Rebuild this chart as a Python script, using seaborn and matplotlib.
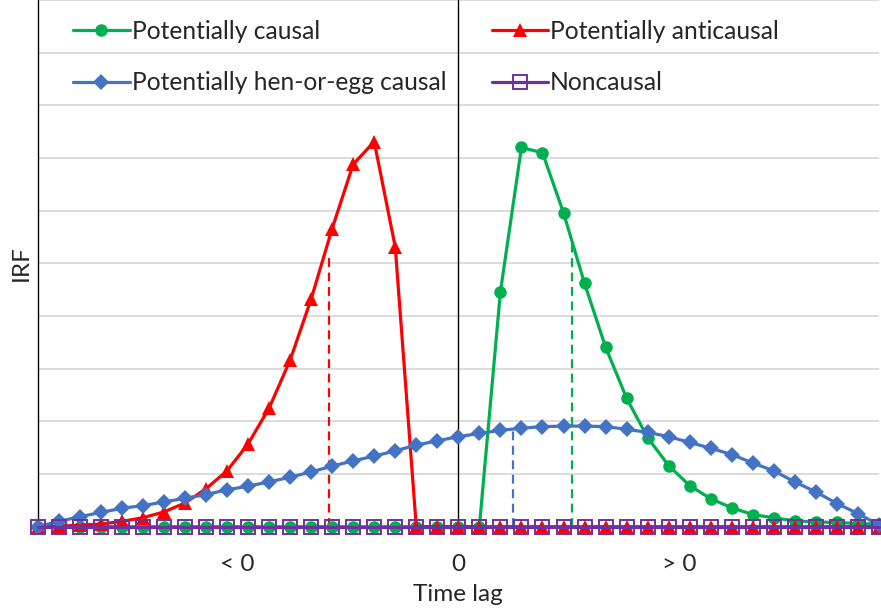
import numpy as np
import pandas as pd
import matplotlib
matplotlib.use("Agg")
import matplotlib.pyplot as plt
import seaborn as sns

# ---- data ----
lags = list(range(-20, 21))

causal = [0] * 22 + [4.46, 7.20, 7.10, 5.96, 4.62, 3.41, 2.44, 1.69, 1.16, 0.78,
                     0.53, 0.36, 0.23, 0.17, 0.11, 0.09, 0.08, 0.06, 0.05]

anticausal = [0, 0.01, 0.03, 0.05, 0.10, 0.17, 0.28, 0.45, 0.72, 1.06, 1.57,
              2.25, 3.16, 4.32, 5.66, 6.88, 7.31, 5.31] + [0] * 23

hen_egg = [0, 0.10, 0.19, 0.27, 0.35, 0.40, 0.47, 0.54, 0.61, 0.70, 0.77,
           0.85, 0.94, 1.04, 1.15, 1.25, 1.34, 1.44, 1.55, 1.63, 1.71,
           1.77, 1.83, 1.87, 1.90, 1.91, 1.91, 1.90, 1.85, 1.79, 1.71,
           1.60, 1.49, 1.37, 1.21, 1.06, 0.85, 0.66, 0.44, 0.25, 0.03]

noncausal = [0] * 41

# dashed markers (mean lag of each response)
dash_lags = [-6.17, 2.62, 5.40]
dash_tops = [5.12, 1.83, 5.44]
dash_colors = ["#FF0000", "#4472C4", "#00B050"]

tick_pos = [-10.5, 0, 10.5]
tick_labels = ["< 0", "0", "> 0"]

series = [
    ("Potentially causal", causal, "#00B050", "o", 9),
    ("Potentially anticausal", anticausal, "#FF0000", "^", 10.5),
    ("Potentially hen-or-egg causal", hen_egg, "#4472C4", "D", 8),
    ("Noncausal", noncausal, "#7030A0", "s", 10.5),
]

# ---- plot ----
sns.set_style("white")
plt.rcParams["font.family"] = ["Lato", "DejaVu Sans"]

fig = plt.figure(figsize=(8.81, 6.16), dpi=100)
ax = fig.add_axes([37.7 / 881, 1 - 526.7 / 616, 841.3 / 881, 526.7 / 616])

for name, vals, col, mk, ms in series:
    if mk == "s":
        sns.lineplot(x=lags, y=vals, ax=ax, color=col, lw=2.3, marker=mk,
                     markersize=ms, markerfacecolor="none", markeredgecolor=col,
                     markeredgewidth=1.4, label=name, clip_on=False, zorder=5)
    else:
        sns.lineplot(x=lags, y=vals, ax=ax, color=col, lw=2.3, marker=mk,
                     markersize=ms, markeredgewidth=0, label=name,
                     clip_on=False, zorder=4)

ax.vlines(dash_lags, 0, dash_tops, colors=dash_colors, linestyles=(0, (4, 2.5)),
          lw=1.6, zorder=3)

ax.axvline(0, color="black", lw=1, zorder=2)

ax.set_xlim(-20, 20)
ax.set_ylim(0, 10)
ax.set_yticks(range(0, 11))
ax.set_yticklabels([])
ax.grid(axis="y", color="#D9D9D9", lw=1.3)
ax.set_axisbelow(True)
ax.set_xticks(tick_pos)
ax.set_xticklabels(tick_labels, fontsize=17.5)
ax.tick_params(length=0)
ax.tick_params(axis="x", pad=20)

for s in ["top", "right", "bottom"]:
    ax.spines[s].set_visible(False)
ax.spines["left"].set_color("black")
ax.spines["left"].set_linewidth(1)

ax.set_xlabel("Time lag", fontsize=17.5, labelpad=6)
ax.set_ylabel("IRF", fontsize=17.5, labelpad=1)

# legend: two columns, filled row by row like the original
h, l = ax.get_legend_handles_labels()
order = [0, 2, 1, 3]
ax.legend([h[i] for i in order], [l[i] for i in order], ncol=2,
          loc="upper left", bbox_to_anchor=(0.042, 0.962), frameon=False,
          fontsize=17.7, handlelength=2.3, handletextpad=0.08, labelspacing=1.15,
          columnspacing=1.85, borderaxespad=0, borderpad=0)

fig.savefig("out.png", dpi=100)
